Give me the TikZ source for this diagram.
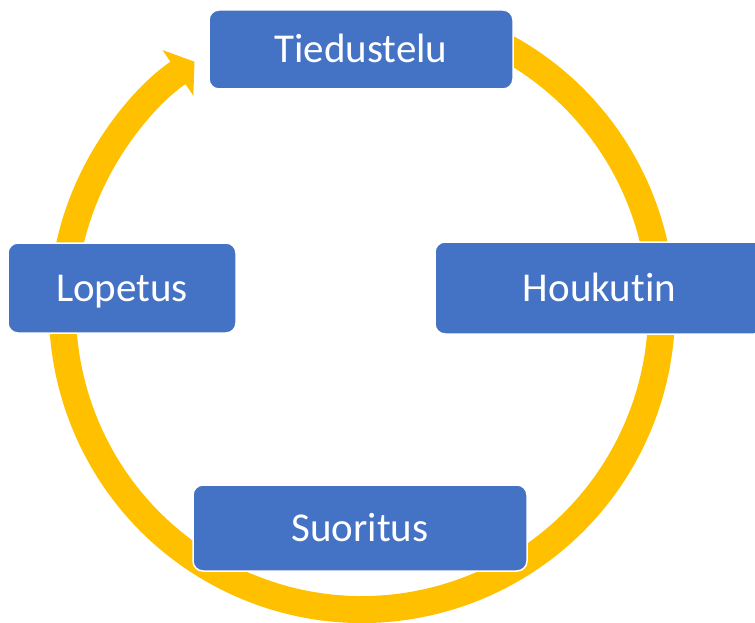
\documentclass[tikz,border=0pt]{standalone}
\usepackage{fontspec}
\setmainfont{Carlito}[Ligatures={NoCommon}]
\usetikzlibrary{arrows.meta}
\definecolor{boxblue}{HTML}{4472C4}
\definecolor{ringgold}{HTML}{FFC000}
\begin{document}
\begin{tikzpicture}[x=1pt,y=1pt,
  stagebox/.style={draw=white,line width=1.5pt,fill=boxblue,rounded corners=10pt,
    inner sep=0pt,text=white,font=\fontsize{41}{49}\selectfont,
    text height=27pt,text depth=1pt},
  ring/.style={draw=ringgold,line width=27pt,line cap=butt,
    -{Triangle[length=20pt,width=54pt]}}]
\useasboundingbox (0,-623) rectangle (755,0);
\coordinate (c) at (362,-310);
\draw[ring] ([shift={(65:299.5)}]c) arc[start angle=65,end angle=-236,radius=299.5];
\node[stagebox,minimum width=304pt,minimum height=79pt] (t) at (361,-49.5) {Tiedustelu};
\node[stagebox,minimum width=329pt,minimum height=92pt] (h) at (599.5,-288) {Houkutin};
\node[stagebox,minimum width=334pt,minimum height=86pt] (s) at (360,-528) {Suoritus};
\node[stagebox,minimum width=228pt,minimum height=90pt] (l) at (122,-288) {Lopetus};
\end{tikzpicture}
\end{document}
